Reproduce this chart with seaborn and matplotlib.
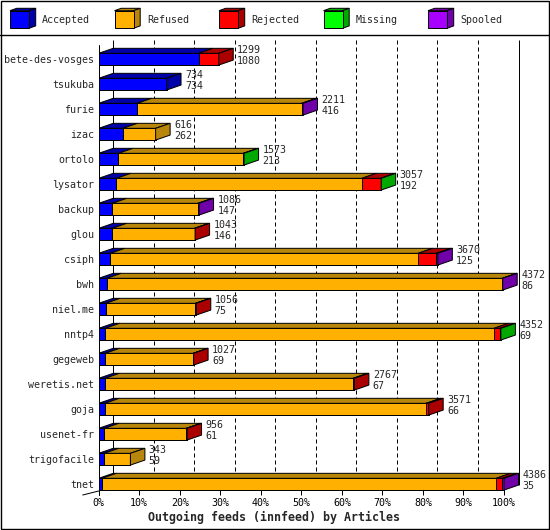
import numpy as np
import pandas as pd
import matplotlib
matplotlib.use("Agg")
import matplotlib.pyplot as plt
import seaborn as sns
from matplotlib.patches import Polygon, Rectangle

# ---------------- data ----------------
feeds = ["bete-des-vosges", "tsukuba", "furie", "izac", "ortolo", "lysator",
         "backup", "glou", "csiph", "bwh", "niel.me", "nntp4", "gegeweb",
         "weretis.net", "goja", "usenet-fr", "trigofacile", "tnet"]
totals = [1299, 734, 2211, 616, 1573, 3057, 1086, 1043, 3670, 4372, 1056,
          4352, 1027, 2767, 3571, 956, 343, 4386]
accepted = [1080, 734, 416, 262, 213, 192, 147, 146, 125, 86, 75, 69, 69,
            67, 66, 61, 59, 35]
refused = [0, 0, 1780, 354, 1352, 2656, 926, 892, 3331, 4281, 972, 4208,
           953, 2685, 3477, 887, 284, 4266]
rejected = [219, 0, 0, 0, 0, 206, 0, 5, 199, 0, 9, 70, 5, 15, 28, 8, 0, 68]
missing = [0, 0, 0, 0, 8, 3, 0, 0, 0, 0, 0, 5, 0, 0, 0, 0, 0, 0]
spooled = [0, 0, 15, 0, 0, 0, 13, 0, 15, 5, 0, 0, 0, 0, 0, 0, 0, 17]

seg_names = ["Accepted", "Refused", "Rejected", "Missing", "Spooled"]
front_colors = ["#0000FF", "#FFB000", "#FF0000", "#00FF00", "#A800FF"]
dark_colors = ["#0000A8", "#B8860B", "#AA0000", "#00A800", "#7000A8"]
tick_vals = list(range(0, 101, 10))
tick_labels = [f"{v}%" for v in tick_vals]
title = "Outgoing feeds (innfeed) by Articles"

# ---------------- geometry ----------------
W, H = 550, 530
PX = 0.72                      # points per pixel at dpi 100
MONO = "DejaVu Sans Mono"
FS = 7.2
scale = 4.053                  # px per percent
x0px, x1px = 98.7, 530.0
ytop, ybot = 40.0, 495.0
row0, rowh = 59.2, 25.0
dxd = 14.5 / scale             # depth in data units (x)
dyd = 5.0 / rowh               # depth in data units (y)
bh = 0.47

sns.set_style("white")
plt.rcParams["font.family"] = [MONO, "DejaVu Sans"]

fig = plt.figure(figsize=(W / 100, H / 100), dpi=100)
ax = fig.add_axes([x0px / W, 1 - ybot / H, (x1px - x0px) / W, (ybot - ytop) / H])
ax.set_facecolor("none")

segs = np.array([accepted, refused, rejected, missing, spooled], dtype=float)
maxtot = max(totals)
pct = segs / maxtot * 100.0
cum = np.cumsum(pct, axis=0)
starts = cum - pct
tot_pct = np.array(totals) / maxtot * 100.0

def py(p):  # pixel y -> data y
    return (p - row0) / rowh

# back gridlines
for v in tick_vals:
    ls = "-" if v in (0, 100) else (0, (4, 3))
    ax.plot([v + dxd, v + dxd], [py(40), py(485)], color="black", lw=PX,
            ls=ls, zorder=0.5, solid_capstyle="butt")

# front faces via seaborn (stacked by overlaying cumulative layers)
for k in range(4, -1, -1):
    sns.barplot(x=list(cum[k]), y=feeds, orient="h", color=front_colors[k],
                saturation=1, width=bh, edgecolor="black", linewidth=PX,
                errorbar=None, ax=ax, zorder=2)

# 3D top and side faces
for i in range(len(feeds)):
    yt = i - bh / 2
    yb = i + bh / 2
    last = None
    for k in range(5):
        a, b = starts[k, i], cum[k, i]
        if b - a <= 0:
            continue
        last = k
        ax.add_patch(Polygon([(a, yt), (b, yt), (b + dxd, yt - dyd), (a + dxd, yt - dyd)],
                             closed=True, facecolor=dark_colors[k], edgecolor="black",
                             lw=PX, zorder=2))
    B = cum[4, i]
    ax.add_patch(Polygon([(B, yt), (B + dxd, yt - dyd), (B + dxd, yb - dyd), (B, yb)],
                         closed=True, facecolor=dark_colors[last], edgecolor="black",
                         lw=PX, zorder=2))
    ax.text(tot_pct[i] + 4.54, i - 0.36, str(totals[i]), ha="left", va="center",
            fontsize=FS, family=MONO, zorder=3, clip_on=False)
    ax.text(tot_pct[i] + 4.54, i + 0.06, str(accepted[i]), ha="left", va="center",
            fontsize=FS, family=MONO, zorder=3, clip_on=False)

# front left axis and floor edge
ax.plot([0, 0], [py(45), py(495)], color="black", lw=PX, zorder=3, clip_on=False)
ax.plot([-16 / scale, 0], [py(495), py(491)], color="black", lw=PX, zorder=3, clip_on=False)

ax.set_xlim(0, (x1px - x0px) / scale)
ax.set_ylim(py(ybot), py(ytop))
ax.set_xlabel("")
ax.set_ylabel("")
for s in ax.spines.values():
    s.set_visible(False)
ax.set_xticks(tick_vals)
ax.set_xticklabels(tick_labels, family=MONO, fontsize=FS)
ax.set_yticks(range(len(feeds)))
ax.set_yticklabels(feeds, family=MONO, fontsize=FS)
ax.tick_params(axis="x", direction="in", length=5 * PX, width=PX, pad=2.5,
               colors="black", bottom=True)
ax.tick_params(axis="y", length=0, pad=4.4 * PX)

fig.text(274 / W, 1 - 517 / H, title, ha="center", va="center",
         fontsize=8.4, fontweight="bold", family=MONO)

# overlay: border and legend
ov = fig.add_axes([0, 0, 1, 1], zorder=5)
ov.set_facecolor("none")
ov.set_xlim(0, W)
ov.set_ylim(H, 0)
ov.axis("off")
ov.add_patch(Rectangle((0.5, 0.5), W - 1.5, H - 1.5, fill=False, edgecolor="black", lw=1.0))
ov.plot([0, W], [35, 35], color="black", lw=1.0)
for j, name in enumerate(seg_names):
    lx = 10 + 104.5 * j
    fy, fh, fw, ddx, ddy = 10.7, 17.6, 19, 6.7, 2.4
    ov.add_patch(Polygon([(lx, fy), (lx + fw, fy), (lx + fw + ddx, fy - ddy), (lx + ddx, fy - ddy)],
                         closed=True, facecolor=dark_colors[j], edgecolor="black", lw=PX))
    ov.add_patch(Polygon([(lx + fw, fy), (lx + fw + ddx, fy - ddy), (lx + fw + ddx, fy + fh - ddy),
                          (lx + fw, fy + fh)], closed=True, facecolor=dark_colors[j],
                         edgecolor="black", lw=PX))
    ov.add_patch(Rectangle((lx, fy), fw, fh, facecolor=front_colors[j], edgecolor="black", lw=PX))
    ov.text(lx + 32.3, 20, name, ha="left", va="center", fontsize=FS, family=MONO)

fig.savefig("out.png", dpi=100)
